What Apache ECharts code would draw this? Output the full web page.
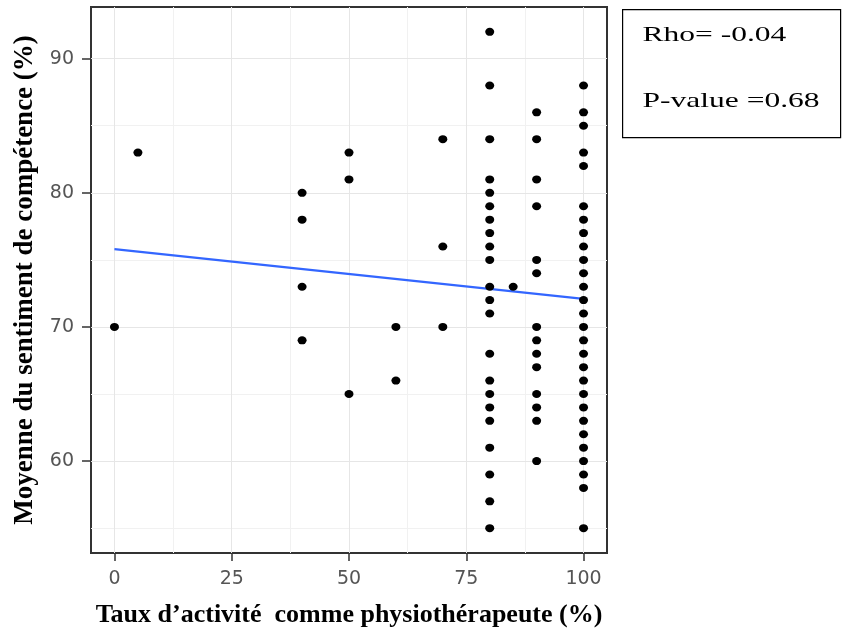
<!DOCTYPE html>
<html>
<head>
<meta charset="utf-8">
<script src="https://cdn.jsdelivr.net/npm/echarts@6/dist/echarts.min.js"></script>
<style>
  html, body { margin: 0; padding: 0; background: #fff; }
  #main { width: 842px; height: 633px; }
</style>
</head>
<body>
<div id="main"></div>
<script>
// taux d'activite (x) -> scores (y)
var scores0 = [70];
var scores5 = [83];
var scores40 = [80, 78, 73, 69];
var scores50 = [83, 81, 65];
var scores60 = [70, 66];
var scores70 = [84, 76, 70];
var scores80 = [92, 88, 84, 81, 80, 79, 78, 77, 76, 75, 73, 72, 71, 68, 66, 65, 64, 63, 61, 59, 57, 55];
var scores85 = [73];
var scores90 = [86, 84, 81, 79, 75, 74, 70, 69, 68, 67, 65, 64, 63, 60];
var scores100 = [88, 86, 85, 83, 82, 79, 78, 77, 76, 75, 74, 73, 72, 71, 70, 69, 68, 67, 66, 65, 64, 63, 62, 61, 60, 59, 58, 55];

// regression line ends
var fitX = [0, 100];
var fitY = [75.8, 72.1];

// ticks
var xTicks = [0, 25, 50, 75, 100];
var xMinor = [12.5, 37.5, 62.5, 87.5];
var yTicks = [60, 70, 80, 90];
var yMinor = [55, 65, 75, 85];

var groups = [
  [0, scores0], [5, scores5], [40, scores40], [50, scores50], [60, scores60],
  [70, scores70], [80, scores80], [85, scores85], [90, scores90], [100, scores100]
];
var points = [];
groups.forEach(function (g) {
  g[1].forEach(function (v) { points.push([g[0], v]); });
});

var gridLines = [];
xMinor.forEach(function (v) { gridLines.push({ xAxis: v, lineStyle: { color: '#f1f1f1', width: 1, type: 'solid' } }); });
yMinor.forEach(function (v) { gridLines.push({ yAxis: v, lineStyle: { color: '#f1f1f1', width: 1, type: 'solid' } }); });
xTicks.forEach(function (v) { gridLines.push({ xAxis: v, lineStyle: { color: '#e6e6e6', width: 1, type: 'solid' } }); });
yTicks.forEach(function (v) { gridLines.push({ yAxis: v, lineStyle: { color: '#e6e6e6', width: 1, type: 'solid' } }); });

var myChart = echarts.init(document.getElementById('main'));

var tickFont = { color: '#555', fontFamily: 'DejaVu Sans', fontSize: 19 };
var titleFont = { fontFamily: 'Liberation Serif', fontWeight: 'bold', color: '#000' };

var option = {
  animation: false,
  backgroundColor: '#fff',
  grid: {
    left: 91, right: 235, top: 7, bottom: 77,
    show: true, borderColor: '#333', borderWidth: 2, backgroundColor: 'transparent'
  },
  xAxis: {
    type: 'value',
    min: -5, max: 105,
    name: 'Taux d\u2019activit\u00e9  comme physioth\u00e9rapeute (%)',
    nameLocation: 'middle',
    nameGap: 49,
    nameTextStyle: Object.assign({ fontSize: 26 }, titleFont),
    axisLine: { show: true, onZero: false, lineStyle: { color: '#333', width: 2 } },
    axisTick: { show: true, inside: false, length: 8, customValues: xTicks, lineStyle: { color: '#333', width: 1.5 } },
    axisLabel: Object.assign({ customValues: xTicks, margin: 17 }, tickFont),
    splitLine: { show: false }
  },
  yAxis: {
    type: 'value',
    min: 53.15, max: 93.85,
    name: 'Moyenne du sentiment de comp\u00e9tence (%)',
    nameLocation: 'middle',
    nameGap: 52,
    nameRotate: 90,
    nameTextStyle: Object.assign({ fontSize: 27 }, titleFont),
    axisLine: { show: true, onZero: false, lineStyle: { color: '#333', width: 2 } },
    axisTick: { show: true, inside: false, length: 9, customValues: yTicks, lineStyle: { color: '#333', width: 1.5 } },
    axisLabel: Object.assign({ customValues: yTicks, margin: 17 }, tickFont),
    splitLine: { show: false }
  },
  series: [
    {
      name: 'grid',
      type: 'line',
      data: [],
      z: 1,
      silent: true,
      markLine: {
        z: 1,
        silent: true,
        symbol: ['none', 'none'],
        label: { show: false },
        animation: false,
        data: gridLines
      }
    },
    {
      name: 'fit',
      type: 'line',
      z: 3,
      showSymbol: false,
      data: fitX.map(function (x, i) { return [x, fitY[i]]; }),
      lineStyle: { color: '#3366ff', width: 2.2 }
    },
    {
      name: 'points',
      type: 'scatter',
      z: 4,
      symbol: 'circle',
      symbolSize: [9, 8],
      itemStyle: { color: '#000', opacity: 1 },
      data: points
    }
  ],
  graphic: [
    {
      type: 'group',
      left: 622, top: 9,
      children: [
        { type: 'rect', shape: { x: 0, y: 0, width: 218, height: 128 },
          style: { fill: '#fff', stroke: '#000', lineWidth: 1.2 } },
        { type: 'text', x: 20, y: 15, scaleX: 1.5,
          style: { text: 'Rho= -0.04', font: '21px "Liberation Serif"', fill: '#000' } },
        { type: 'text', x: 20, y: 81, scaleX: 1.5,
          style: { text: 'P-value =0.68', font: '21px "Liberation Serif"', fill: '#000' } }
      ]
    }
  ]
};

myChart.setOption(option);
</script>
</body>
</html>
